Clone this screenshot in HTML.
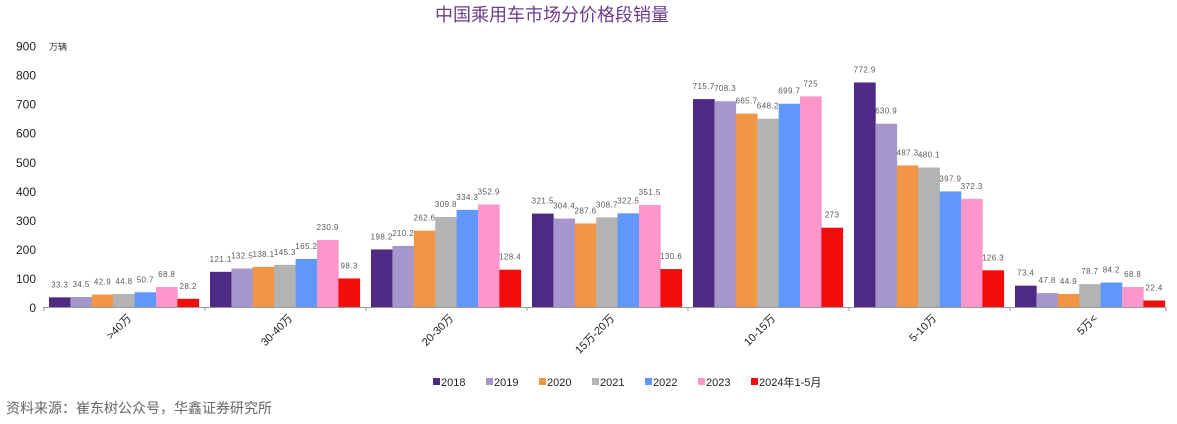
<!DOCTYPE html><html><head><meta charset="utf-8"><style>
body{margin:0;background:#fff;width:1177px;height:419px;overflow:hidden;font-family:"Liberation Sans","Noto Sans CJK SC",sans-serif}
</style></head><body>
<svg id="s" width="1177" height="419" xmlns="http://www.w3.org/2000/svg">
<text x="552" y="21" text-anchor="middle" font-size="18" fill="#6a3d8f" font-family="Liberation Sans,Noto Sans CJK SC,sans-serif">中国乘用车市场分价格段销量</text>
<text x="49" y="50" font-size="9" fill="#333" font-family="Noto Sans CJK SC,sans-serif">万辆</text>
<text x="6" y="413" font-size="14" fill="#666" font-family="Liberation Sans,Noto Sans CJK SC,sans-serif">资料来源：崔东树公众号，华鑫证券研究所</text>
</svg>
<script>
var s=document.getElementById('s'),ns='http://www.w3.org/2000/svg';
function el(t,a,txt){var e=document.createElementNS(ns,t);for(var k in a)e.setAttribute(k,a[k]);if(txt!=null)e.textContent=txt;s.appendChild(e);return e;}
var y0=307,k=0.2905;
for(var i=0;i<=9;i++)el('text',{x:36,y:y0-i*100*k+5,'text-anchor':'end','font-size':12,fill:'#222'},i*100);
el('line',{x1:43,y1:y0+.5,x2:1166,y2:y0+.5,stroke:'#999'});
var cols=['#4e2a84','#a597cc','#f29544','#b3b3b3','#5f97fb','#fd97cb','#f40b0b'];
var cats=['>40万','30-40万','20-30万','15万-20万','10-15万','5-10万','5万<'];
var d=[[33.3,34.5,42.9,44.8,50.7,68.8,28.2],[121.1,132.5,138.1,145.3,165.2,230.9,98.3],[198.2,210.2,262.6,309.8,334.3,352.9,128.4],[321.5,304.4,287.6,308.7,322.5,351.5,130.6],[715.7,708.3,665.7,648.2,699.7,725,273],[772.9,630.9,487.3,480.1,397.9,372.3,126.3],[73.4,47.8,44.9,78.7,84.2,68.8,22.4]];
var bw=21.4;
for(var g=0;g<7;g++){var gx=49+g*161;
 el('line',{x1:gx-5,y1:y0,x2:gx-5,y2:y0+4,stroke:'#999'});
 for(var j=0;j<7;j++){var v=d[g][j],h=v*k,x=gx+j*bw;
  el('rect',{x:x,y:y0-h,width:bw+.3,height:h,fill:cols[j]});
  el('text',{x:x+bw/2,y:y0-h-10,'text-anchor':'middle','font-size':8,fill:'#595959','letter-spacing':'0.4'},String(v));}
 var cx=gx+75;
 el('text',{x:cx+8,y:y0+12,'text-anchor':'end','font-size':11,fill:'#222',transform:'rotate(-45 '+(cx+8)+' '+(y0+12)+')'},cats[g]);
}
el('line',{x1:1166,y1:y0,x2:1166,y2:y0+4,stroke:'#999'});
var lx=[433,486,539,592,645,698,751],ln=['2018','2019','2020','2021','2022','2023','2024年1-5月'];
for(var j=0;j<7;j++){el('rect',{x:lx[j],y:378,width:7,height:7,fill:cols[j]});el('text',{x:lx[j]+8,y:386,'font-size':11,fill:'#222'},ln[j]);}
</script>
</body></html>
